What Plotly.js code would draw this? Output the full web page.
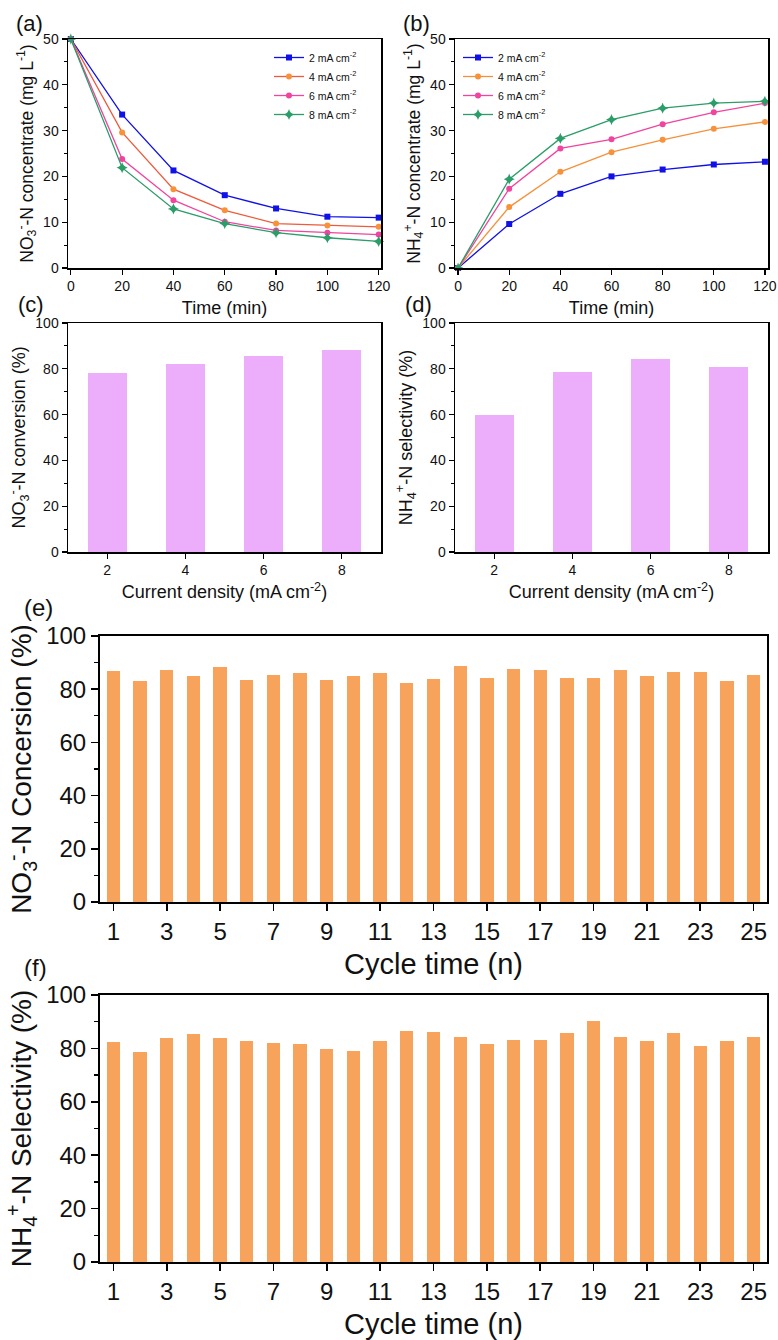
<!DOCTYPE html>
<html>
<head>
<meta charset="utf-8">
<script src="https://cdn.plot.ly/plotly-3.0.1.min.js"></script>
<style>html,body{margin:0;padding:0;background:#fff;}#chart{width:778px;height:1340px;}</style>
</head>
<body>
<div id="chart"></div>
<script>
// ---- data ----
const time = [0, 20, 40, 60, 80, 100, 120];
const seriesNames = ['2 mA cm<sup>-2</sup>', '4 mA cm<sup>-2</sup>', '6 mA cm<sup>-2</sup>', '8 mA cm<sup>-2</sup>'];
const no3_2 = [50, 33.5, 21.3, 15.9, 13.0, 11.2, 11.0];
const no3_4 = [50, 29.6, 17.2, 12.6, 9.7, 9.3, 9.0];
const no3_6 = [50, 23.8, 14.8, 10.1, 8.2, 7.7, 7.3];
const no3_8 = [50, 21.9, 12.9, 9.7, 7.7, 6.6, 5.8];
const nh4_2 = [0, 9.6, 16.2, 20.0, 21.5, 22.6, 23.2];
const nh4_4 = [0, 13.3, 21.0, 25.3, 28.0, 30.4, 31.9];
const nh4_6 = [0, 17.3, 26.1, 28.1, 31.4, 34.0, 36.0];
const nh4_8 = [0, 19.4, 28.3, 32.4, 34.9, 36.0, 36.4];
const density = [2, 4, 6, 8];
const conversion = [78.1, 82.0, 85.7, 88.3];
const selectivity = [59.7, 78.4, 84.4, 80.7];
const cycles = [1,2,3,4,5,6,7,8,9,10,11,12,13,14,15,16,17,18,19,20,21,22,23,24,25];
const cycleConversion = [86.9,83.0,87.4,85.1,88.4,83.3,85.5,86.1,83.3,84.9,86.1,82.5,84.0,88.7,84.4,87.6,87.1,84.4,84.4,87.3,84.9,86.5,86.4,83.1,85.4];
const cycleSelectivity = [82.3,78.8,83.8,85.3,83.8,82.9,81.9,81.6,79.6,78.9,82.8,86.5,86.1,84.4,81.6,83.3,83.3,85.8,90.2,84.2,82.7,85.8,80.8,82.8,84.2];
const cycleTicks = [1,3,5,7,9,11,13,15,17,19,21,23,25];

// ---- styles ----
const FONT = 'Arial, "Liberation Sans", sans-serif';
const lineCol = ['#1010e8', '#ee5a3c', '#f0449e', '#2a9d68'];
const markCol = ['#1010e8', '#f7923a', '#f0449e', '#2a9d68'];
const lineColB = ['#1010e8', '#f5913a', '#f0449e', '#2a9d68'];
const symbols = ['square', 'circle', 'circle', 'star-diamond'];
const barViolet = '#ecaefa';
const barOrange = '#f8a35c';

const W = 778, H = 1340;
const dx = (a, b) => [a / W, b / W];
const dy = (top, bot) => [1 - bot / H, 1 - top / H];

const traces = [];
const no3 = [no3_2, no3_4, no3_6, no3_8];
const nh4 = [nh4_2, nh4_4, nh4_6, nh4_8];
for (let i = 0; i < 4; i++) {
  traces.push({
    x: time, y: no3[i], type: 'scatter', mode: 'lines+markers', name: seriesNames[i],
    xaxis: 'x', yaxis: 'y', legend: 'legend', cliponaxis: false,
    line: {color: lineCol[i], width: 1.3},
    marker: {color: markCol[i], symbol: symbols[i], size: i === 3 ? 8 : 6}
  });
}
for (let i = 0; i < 4; i++) {
  traces.push({
    x: time, y: nh4[i], type: 'scatter', mode: 'lines+markers', name: seriesNames[i],
    xaxis: 'x2', yaxis: 'y2', legend: 'legend2', cliponaxis: false,
    line: {color: lineColB[i], width: 1.3},
    marker: {color: markCol[i], symbol: symbols[i], size: i === 3 ? 8 : 6}
  });
}
traces.push({x: density, y: conversion, type: 'bar', xaxis: 'x3', yaxis: 'y3', width: 1.0,
  marker: {color: barViolet}, showlegend: false});
traces.push({x: density, y: selectivity, type: 'bar', xaxis: 'x4', yaxis: 'y4', width: 1.0,
  marker: {color: barViolet}, showlegend: false});
traces.push({x: cycles, y: cycleConversion, type: 'bar', xaxis: 'x5', yaxis: 'y5', width: 0.5,
  marker: {color: barOrange}, showlegend: false});
traces.push({x: cycles, y: cycleSelectivity, type: 'bar', xaxis: 'x6', yaxis: 'y6', width: 0.5,
  marker: {color: barOrange}, showlegend: false});

function ax(domain, opts, small) {
  const base = {
    domain: domain, showgrid: false, zeroline: false, showline: true, mirror: true,
    linecolor: '#000', linewidth: small ? 1.5 : 2, ticks: 'outside', ticklen: small ? 5 : 7,
    tickwidth: small ? 1.2 : 1.6, tickcolor: '#000',
    tickfont: {family: FONT, size: small ? 14 : 24, color: '#111'},
    fixedrange: true
  };
  return Object.assign(base, opts);
}
const minorS = (d) => ({dtick: d, ticklen: 3, tickwidth: 1, tickcolor: '#000', showgrid: false, ticks: 'outside'});
const minorL = (d) => ({dtick: d, ticklen: 4, tickwidth: 1.4, tickcolor: '#000', showgrid: false, ticks: 'outside'});
const tFont = (s) => ({family: FONT, size: s, color: '#111'});

const layout = {
  width: W, height: H, margin: {l: 0, r: 0, t: 0, b: 0},
  paper_bgcolor: '#fff', plot_bgcolor: '#fff', showlegend: true,
  font: {family: FONT, color: '#111'},
  bargap: 0,
  xaxis: ax(dx(68, 381), {anchor: 'y', range: [-1.1, 120.9], tickvals: [0,20,40,60,80,100,120],
    title: {text: 'Time (min)', font: tFont(18), standoff: 8}}, true),
  yaxis: ax(dy(39, 268), {anchor: 'x', range: [0, 50], tickvals: [0,10,20,30,40,50], minor: minorS(5),
    title: {text: 'NO<sub>3</sub><sup>-</sup>-N concentrate (mg L<sup>-1</sup>)', font: tFont(17.5), standoff: 5}}, true),
  xaxis2: ax(dx(455, 768), {anchor: 'y2', range: [-1.2, 121.2], tickvals: [0,20,40,60,80,100,120],
    title: {text: 'Time (min)', font: tFont(18), standoff: 8}}, true),
  yaxis2: ax(dy(39, 268), {anchor: 'x2', range: [0, 50], tickvals: [0,10,20,30,40,50], minor: minorS(5),
    title: {text: 'NH<sub>4</sub><sup>+</sup>-N concentrate (mg L<sup>-1</sup>)', font: tFont(17.5), standoff: 5}}, true),
  xaxis3: ax(dx(68, 381), {anchor: 'y3', range: [1, 9], tickvals: density,
    title: {text: 'Current density (mA cm<sup>-2</sup>)', font: tFont(18), standoff: 8}}, true),
  yaxis3: ax(dy(323, 552), {anchor: 'x3', range: [0, 100], tickvals: [0,20,40,60,80,100], minor: minorS(10),
    title: {text: 'NO<sub>3</sub><sup>-</sup>-N conversion (%)', font: tFont(18), standoff: 5}}, true),
  xaxis4: ax(dx(455, 768), {anchor: 'y4', range: [1, 9], tickvals: density,
    title: {text: 'Current density (mA cm<sup>-2</sup>)', font: tFont(18), standoff: 8}}, true),
  yaxis4: ax(dy(323, 552), {anchor: 'x4', range: [0, 100], tickvals: [0,20,40,60,80,100], minor: minorS(10),
    title: {text: 'NH<sub>4</sub><sup>+</sup>-N selectivity (%)', font: tFont(18), standoff: 5}}, true),
  xaxis5: ax(dx(100, 767), {anchor: 'y5', range: [0.5, 25.5], tickvals: cycleTicks,
    title: {text: 'Cycle time (n)', font: tFont(29), standoff: 10}}, false),
  yaxis5: ax(dy(636, 902), {anchor: 'x5', range: [0, 100], tickvals: [0,20,40,60,80,100], minor: minorL(10),
    title: {text: 'NO<sub>3</sub><sup>-</sup>-N Concersion (%)', font: tFont(28), standoff: 6}}, false),
  xaxis6: ax(dx(100, 767), {anchor: 'y6', range: [0.5, 25.5], tickvals: cycleTicks,
    title: {text: 'Cycle time (n)', font: tFont(29), standoff: 10}}, false),
  yaxis6: ax(dy(995, 1262), {anchor: 'x6', range: [0, 100], tickvals: [0,20,40,60,80,100], minor: minorL(10),
    title: {text: 'NH<sub>4</sub><sup>+</sup>-N Selectivity (%)', font: tFont(28), standoff: 6}}, false),
  legend: {x: 269 / W, y: 1 - 43 / H, xanchor: 'left', yanchor: 'top', bgcolor: 'rgba(0,0,0,0)',
    font: {family: FONT, size: 10.5, color: '#111'}, tracegroupgap: 0, itemwidth: 30},
  legend2: {x: 458 / W, y: 1 - 43 / H, xanchor: 'left', yanchor: 'top', bgcolor: 'rgba(0,0,0,0)',
    font: {family: FONT, size: 10.5, color: '#111'}, tracegroupgap: 0, itemwidth: 30},
  annotations: [
    {text: '(a)', x: 14 / W, y: 1 - 9 / H},
    {text: '(b)', x: 401 / W, y: 1 - 9 / H},
    {text: '(c)', x: 16 / W, y: 1 - 290 / H},
    {text: '(d)', x: 403 / W, y: 1 - 290 / H},
    {text: '(e)', x: 22 / W, y: 1 - 592 / H, size: 24},
    {text: '(f)', x: 22 / W, y: 1 - 952 / H, size: 24}
  ].map(a => ({text: a.text, x: a.x, y: a.y, xref: 'paper', yref: 'paper', xanchor: 'left', yanchor: 'top',
    showarrow: false, font: {family: FONT, size: a.size || 22, color: '#111'}}))
};

Plotly.newPlot('chart', traces, layout, {staticPlot: true, displayModeBar: false});
</script>
</body>
</html>
